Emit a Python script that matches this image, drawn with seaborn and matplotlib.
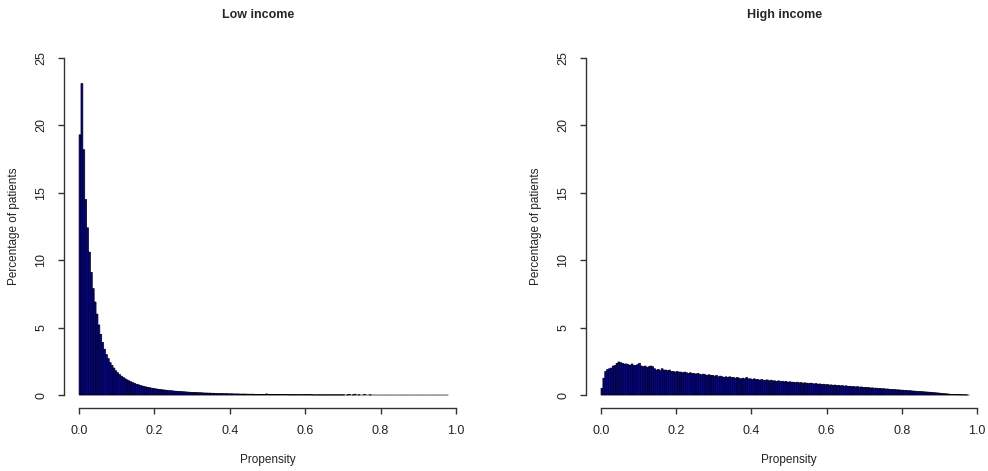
import numpy as np
import pandas as pd
import matplotlib
matplotlib.use("Agg")
import matplotlib.pyplot as plt
import seaborn as sns

# bins of width 0.005 from 0.0 to 0.98
bin_width = 0.005
n_bins = 196

# percentage of patients per propensity bin, low income
low_income = [
    19.3, 23.1, 18.2, 14.5, 12.4, 10.6, 9.1, 7.9, 6.9, 6.0,
    5.2, 4.5, 3.9, 3.4, 3.0, 2.7, 2.4, 2.2, 2.0, 1.8,
    1.65, 1.52, 1.40, 1.30, 1.20, 1.12, 1.05, 0.98, 0.92, 0.86,
    0.80, 0.76, 0.71, 0.67, 0.63, 0.60, 0.57, 0.54, 0.51, 0.49,
    0.46, 0.44, 0.42, 0.40, 0.38, 0.37, 0.35, 0.33, 0.32, 0.31,
    0.29, 0.28, 0.27, 0.26, 0.25, 0.24, 0.23, 0.22, 0.21, 0.20,
    0.19, 0.19, 0.18, 0.17, 0.17, 0.16, 0.15, 0.15, 0.14, 0.14,
    0.13, 0.13, 0.12, 0.12, 0.11, 0.11, 0.10, 0.10, 0.10, 0.09,
    0.09, 0.09, 0.08, 0.08, 0.08, 0.07, 0.07, 0.07, 0.07, 0.06,
    0.06, 0.06, 0.06, 0.05, 0.05, 0.05, 0.05, 0.05, 0.04, 0.08,
    0.04, 0.04, 0.04, 0.03, 0.03, 0.03, 0.03, 0.03, 0.03, 0.03,
    0.03, 0.02, 0.02, 0.02, 0.02, 0.02, 0.02, 0.02, 0.02, 0.02,
    0.02, 0.02, 0.02, 0.02, 0.01, 0.01, 0.01, 0.01, 0.01, 0.01,
    0.01, 0.01, 0.01, 0.01, 0.01, 0.01, 0.01, 0.01, 0.01, 0.01,
    0.01, 0.00, 0.01, 0.05, 0.00, 0.01, 0.06, 0.00, 0.01, 0.00,
    0.00, 0.05, 0.00, 0.00, 0.01, 0.00, 0.00, 0.00, 0.00, 0.00,
    0.00, 0.00, 0.00, 0.00, 0.00, 0.00, 0.00, 0.00, 0.00, 0.00,
    0.00, 0.00, 0.00, 0.00, 0.00, 0.00, 0.00, 0.00, 0.00, 0.00,
    0.00, 0.00, 0.00, 0.00, 0.00, 0.00, 0.00, 0.00, 0.00, 0.00,
    0.00, 0.00, 0.00, 0.00, 0.00, 0.00,
]

# percentage of patients per propensity bin, high income
high_income = [
    0.5, 1.25, 1.75, 1.9, 1.95, 2.0, 2.15, 2.2, 2.35, 2.45,
    2.4, 2.35, 2.3, 2.3, 2.25, 2.2, 2.3, 2.2, 2.2, 2.25,
    2.35, 2.15, 2.1, 2.15, 2.05, 2.1, 2.15, 2.1, 1.95, 1.85,
    1.9, 1.8, 1.95, 1.85, 1.85, 1.8, 1.85, 1.75, 1.75, 1.7,
    1.75, 1.7, 1.7, 1.65, 1.7, 1.65, 1.6, 1.65, 1.6, 1.6,
    1.55, 1.6, 1.55, 1.5, 1.55, 1.5, 1.45, 1.5, 1.45, 1.45,
    1.4, 1.45, 1.35, 1.4, 1.35, 1.3, 1.35, 1.3, 1.35, 1.3,
    1.3, 1.25, 1.3, 1.25, 1.2, 1.25, 1.2, 1.3, 1.2, 1.2,
    1.15, 1.2, 1.15, 1.15, 1.1, 1.15, 1.1, 1.1, 1.12, 1.05,
    1.1, 1.05, 1.05, 1.0, 1.05, 1.0, 1.02, 0.98, 1.0, 0.95,
    0.98, 0.95, 0.95, 0.92, 0.95, 0.9, 0.92, 0.88, 0.9, 0.88,
    0.85, 0.88, 0.85, 0.82, 0.85, 0.8, 0.82, 0.78, 0.8, 0.76,
    0.78, 0.74, 0.75, 0.72, 0.74, 0.7, 0.72, 0.68, 0.7, 0.66,
    0.68, 0.64, 0.65, 0.62, 0.63, 0.6, 0.62, 0.58, 0.6, 0.56,
    0.57, 0.55, 0.55, 0.52, 0.53, 0.5, 0.51, 0.48, 0.49, 0.46,
    0.47, 0.44, 0.45, 0.42, 0.42, 0.4, 0.4, 0.38, 0.38, 0.36,
    0.36, 0.34, 0.34, 0.32, 0.32, 0.3, 0.29, 0.28, 0.27, 0.26,
    0.25, 0.24, 0.23, 0.22, 0.21, 0.2, 0.19, 0.17, 0.16, 0.15,
    0.13, 0.12, 0.1, 0.09, 0.08, 0.06, 0.05, 0.04, 0.03, 0.03,
    0.02, 0.02, 0.01, 0.01, 0.01, 0.0,
]

titles = ["Low income", "High income"]
x_ticks = [0.0, 0.2, 0.4, 0.6, 0.8, 1.0]
y_ticks = [0, 5, 10, 15, 20, 25]

edges = list(np.arange(n_bins + 1) * bin_width)
centers = [e + bin_width / 2 for e in edges[:-1]]

sns.set_style("ticks")
plt.rcParams["font.family"] = ["Liberation Sans", "DejaVu Sans"]

fig = plt.figure(figsize=(9.88, 4.71), dpi=100)
ax_pos = [[0.0648, 0.1327, 0.4119, 0.7728], [0.5931, 0.1327, 0.4109, 0.7728]]
title_x = [0.477, 0.49]
axis_col = "#333333"

for i, vals in enumerate([low_income, high_income]):
    ax = fig.add_axes(ax_pos[i])
    df = pd.DataFrame({"propensity": centers, "pct": vals})
    sns.histplot(data=df, x="propensity", weights="pct", bins=edges, ax=ax,
                 color="#0000b0", edgecolor="black", linewidth=0.5, alpha=1,
                 snap=False)
    ax.set_xlim(-0.04, 1.04)
    ax.set_ylim(-1, 26)
    ax.set_xticks(x_ticks)
    ax.set_xticklabels([f"{t:.1f}" for t in x_ticks])
    ax.set_yticks(y_ticks)
    ax.set_yticklabels([str(t) for t in y_ticks], rotation=90, va="center")
    for s in ["top", "right"]:
        ax.spines[s].set_visible(False)
    ax.spines["left"].set_bounds(0, 25)
    ax.spines["bottom"].set_bounds(0, 1)
    for s in ["left", "bottom"]:
        ax.spines[s].set_color(axis_col)
        ax.spines[s].set_linewidth(1.0)
    ax.tick_params(axis="both", length=4, width=1.0, color=axis_col,
                   labelsize=9, pad=8, labelcolor="#222222")
    ax.set_xlabel("Propensity", fontsize=8.5, labelpad=12, color="#222222")
    ax.set_ylabel("Percentage of patients", fontsize=8.5, labelpad=11, color="#222222")
    ax.set_title(titles[i], fontsize=9, fontweight="bold", pad=19, x=title_x[i])

fig.savefig("out.png", dpi=100)
